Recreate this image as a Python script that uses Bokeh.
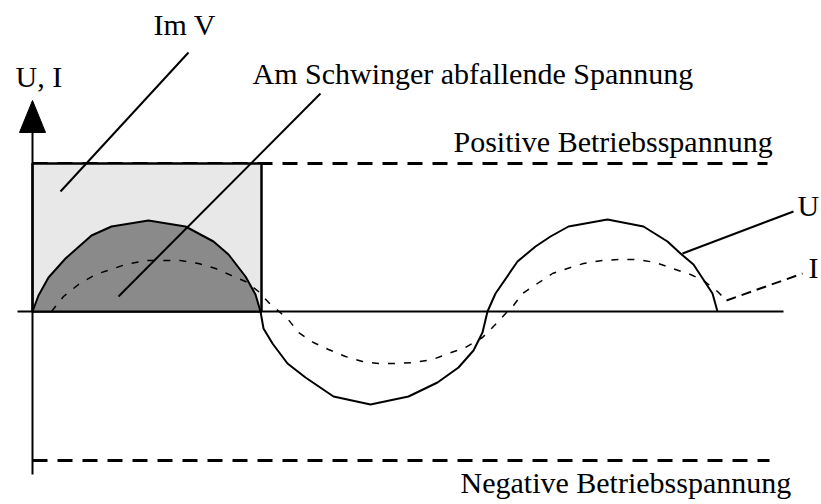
from bokeh.plotting import figure
from bokeh.models import Range1d, ColumnDataSource
from bokeh.core.properties import value
from bokeh.embed import file_html
from bokeh.resources import INLINE

# ---- data (diagram units: t along time axis, v above zero line) ----
u_t = [0, 6, 16, 33, 59, 79, 116, 153, 181, 196, 213, 223, 228,
       231, 240, 255, 273, 301, 338, 376, 405, 426, 441, 450, 455,
       463, 485, 503, 518, 536, 575, 611, 635, 648, 661, 680, 685]
u_v = [0, 16, 34, 53, 76, 85, 91, 85, 70, 57, 35, 17, 0,
       -17, -32, -52, -66, -85, -93, -85, -71, -56, -39, -21, 0,
       18, 50, 65, 75, 85, 92, 85, 70, 58, 47, 18, 0]
n_first_half = 13

i_t = [19, 31, 46, 63, 93, 113, 129, 148, 166, 183, 199, 213, 226, 238,
       255, 266, 281, 296, 313, 330, 346, 363, 381, 400, 416, 433, 450, 460, 475,
       481, 490, 505, 520, 535, 551, 570, 588, 605, 623, 640, 658, 671, 685, 694]
i_v = [0, 15, 27, 37, 47, 51, 51, 51, 48, 43, 36, 30, 20, 7,
       -7, -21, -31, -38, -45, -50, -52, -52, -51, -48, -42, -36, -26, -16, 0,
       6, 18, 28, 38, 43, 48, 51, 52, 52, 49, 43, 37, 31, 20, 11]

v_pos = 148          # positive supply voltage
v_neg = -149         # negative supply voltage
supply_t_end = [735, 737]
imv_t = [0, 229]     # interval of the "Im V" rectangle
axis_t_range = [-15, 751]
axis_v_range = [-163, 211]

label_texts = ["U, I", "Im V", "Am Schwinger abfallende Spannung",
               "Positive Betriebsspannung", "Negative Betriebsspannung", "U", "I"]
label_t = [-17, 121, 220, 421, 428, 765, 776]
label_v = [235, 287, 238, 170, -171, 106, 44]

lead_imv = ([156, 28], [259, 120])
lead_am = ([288, 86], [218, 15])
lead_u = ([650, 761], [58, 100])
lead_i = ([694, 770], [11, 38])

# ---- figure ----
W, H = 821, 504
p = figure(width=W, height=H, output_backend="svg", toolbar_location=None,
           x_range=Range1d(-32, -32 + W), y_range=Range1d(311 - H, 311),
           x_axis_location=None, y_axis_location=None, min_border=0)
p.grid.visible = False
p.outline_line_color = None
p.background_fill_color = "white"

# supply voltage lines
p.line([0, supply_t_end[0]], [v_pos, v_pos], line_color="black", line_width=3, line_dash="15 10")
p.line([0, supply_t_end[1]], [v_neg, v_neg], line_color="black", line_width=3, line_dash="15 10")

# Im V rectangle
p.quad(left=imv_t[0], right=imv_t[1], bottom=0, top=v_pos,
       fill_color="#e8e8e8", line_color="black", line_width=2.5)

# voltage across oscillator (first half filled)
p.varea(x=u_t[:n_first_half], y1=[0] * n_first_half, y2=u_v[:n_first_half], fill_color="#8a8a8a")

# axes
p.line(axis_t_range, [0, 0], line_color="black", line_width=2)
p.line([0, 0], [axis_v_range[0], axis_v_range[1] - 32], line_color="black", line_width=2)
p.patch([0, -13, 13], [axis_v_range[1], axis_v_range[1] - 32, axis_v_range[1] - 32],
        fill_color="black", line_color="black")

# U curve
p.line(u_t, u_v, line_color="black", line_width=2)
# I curve
p.line(i_t, i_v, line_color="black", line_width=1.5, line_dash="7 9")

# leaders
p.line(*lead_imv, line_color="black", line_width=2)
p.line(*lead_am, line_color="black", line_width=2)
p.line(*lead_u, line_color="black", line_width=2)
p.line(*lead_i, line_color="black", line_width=2, line_dash="10 6")

src = ColumnDataSource(dict(x=label_t, y=label_v, text=label_texts))
p.text(x="x", y="y", text="text", source=src, text_font=value("Liberation Serif"),
       text_font_size=value("30px"), text_color="black",
       text_align="left", text_baseline="alphabetic")

open("out.html", "w").write(file_html(p, INLINE))
